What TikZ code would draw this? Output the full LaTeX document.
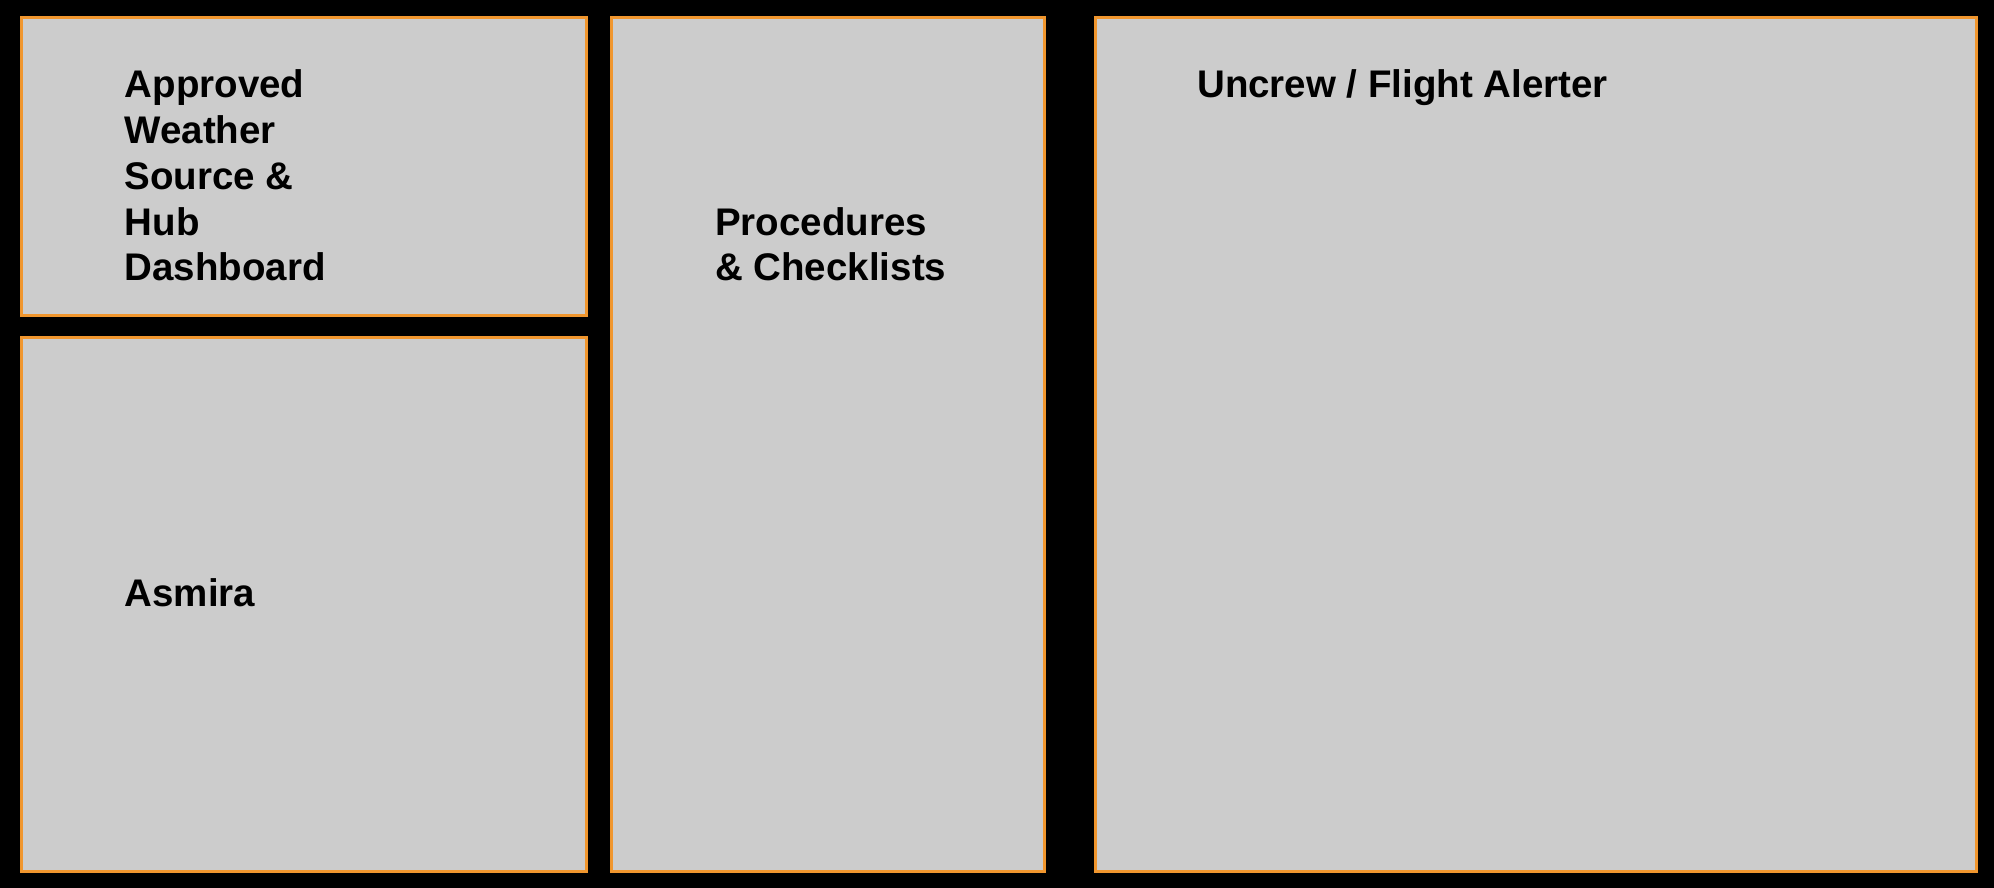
\documentclass[tikz,border=0pt]{standalone}
\usepackage{fontspec}
\setmainfont{Liberation Sans}
\definecolor{panelfill}{HTML}{CCCCCC}
\definecolor{paneledge}{HTML}{F0962E}
\tikzset{
  panel/.style={draw=paneledge, fill=panelfill, line width=3pt, rectangle, inner sep=0pt, anchor=north west},
  paneltitle/.style={anchor=base west, inner sep=0pt, align=left, text=black, font=\bfseries\fontsize{38.5}{45.8}\selectfont},
}

\begin{document}
\begin{tikzpicture}[x=1pt, y=-1pt]
  \fill[black] (0,0) rectangle (1994,888);
  \useasboundingbox (0,0) rectangle (1994,888);

  % panels
  \node[panel, minimum width=565pt, minimum height=297pt] (wxhub) at (19.5,16.5) {};
  \node[panel, minimum width=565pt, minimum height=534pt] (asmira) at (19.5,335.5) {};
  \node[panel, minimum width=433pt, minimum height=853pt] (procs) at (609.5,16.5) {};
  \node[panel, minimum width=881.5pt, minimum height=853pt] (alerter) at (1093.5,16.5) {};

  % titles (base = last line)
  \node[paneltitle] (wxhubtxt) at (124.5,280.9) {Approved\\Weather\\Source \&\\Hub\\Dashboard};
  \node[paneltitle] (asmiratxt) at (124.5,606) {Asmira};
  \node[paneltitle] (procstxt) at (715,280.8) {Procedures\\\& Checklists};
  \node[paneltitle] (alertertxt) at (1197,98) {Uncrew / Flight Alerter};
\end{tikzpicture}
\end{document}
